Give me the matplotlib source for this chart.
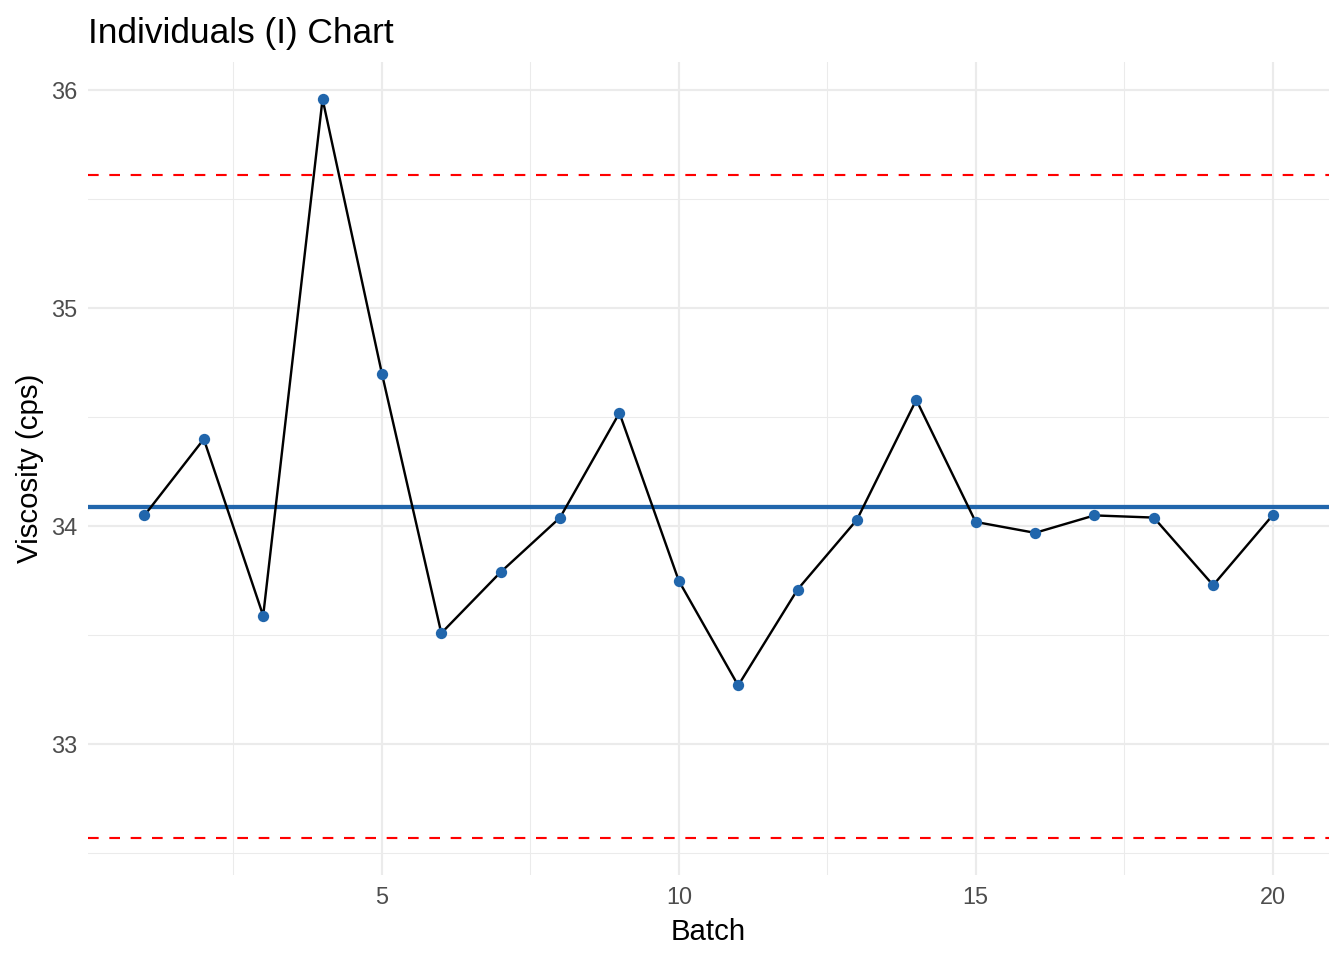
import matplotlib
matplotlib.use("Agg")
import matplotlib.pyplot as plt
from matplotlib.ticker import MultipleLocator

batch = list(range(1, 21))
viscosity = [34.05, 34.40, 33.59, 35.96, 34.70, 33.51, 33.79, 34.04, 34.52, 33.75,
             33.27, 33.71, 34.03, 34.58, 34.02, 33.97, 34.05, 34.04, 33.73, 34.05]
center = 34.09
ucl = 35.61
lcl = 32.57

title = "Individuals (I) Chart"
xlabel = "Batch"
ylabel = "Viscosity (cps)"

plt.rcParams['font.family'] = ['Liberation Sans', 'DejaVu Sans']

fig = plt.figure(figsize=(14, 10), dpi=96)
ax = fig.add_axes([0.0655, 0.0885, 0.9233, 0.8469])

blue = "#2166AC"
ax.axhline(center, color=blue, lw=3.2, zorder=3)
ax.axhline(ucl, color="red", lw=1.6, ls=(0, (5, 5)), zorder=3)
ax.axhline(lcl, color="red", lw=1.6, ls=(0, (5, 5)), zorder=3)
ax.plot(batch, viscosity, color="black", lw=1.8, zorder=4)
ax.scatter(batch, viscosity, s=72, color=blue, zorder=5, linewidths=0)

lo = min(min(viscosity), lcl)
hi = max(max(viscosity), ucl)
pad = (hi - lo) * 0.05
ax.set_ylim(lo - pad, hi + pad)
xpad = (max(batch) - min(batch)) * 0.05
ax.set_xlim(min(batch) - xpad, max(batch) + xpad)

ax.xaxis.set_major_locator(MultipleLocator(5))
ax.xaxis.set_minor_locator(MultipleLocator(2.5))
ax.yaxis.set_major_locator(MultipleLocator(1))
ax.yaxis.set_minor_locator(MultipleLocator(0.5))

ax.grid(which="major", color="#EBEBEB", lw=1.6, zorder=0)
ax.grid(which="minor", color="#EBEBEB", lw=0.8, zorder=0)
ax.set_axisbelow(True)
for s in ax.spines.values():
    s.set_visible(False)
ax.tick_params(which="both", length=0)
ax.tick_params(axis="both", labelsize=17.6, labelcolor="#4D4D4D")
ax.tick_params(axis="x", pad=8)
ax.tick_params(axis="y", pad=8)

ax.set_xlabel(xlabel, fontsize=22, color="black", labelpad=7)
ax.set_ylabel(ylabel, fontsize=22, color="black", labelpad=5)
ax.set_title(title, fontsize=26.4, loc="left", pad=14, x=0.0)

fig.savefig("out.png", dpi=96)
